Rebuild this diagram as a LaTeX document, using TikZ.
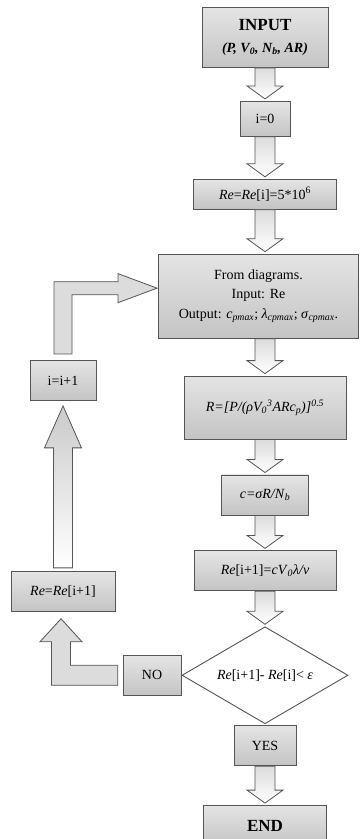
\documentclass[tikz,border=0pt]{standalone}
\usepackage{fontspec}
\setmainfont{Liberation Serif}
\usetikzlibrary{positioning,calc,shapes.geometric}
\definecolor{edgec}{HTML}{555555}
\definecolor{shadec}{HTML}{C4C4C4}
\definecolor{arrc}{HTML}{DCDCDC}
\newcommand{\fs}[1]{\fontsize{#1}{#1}\selectfont}
\tikzset{
  blk/.style  ={draw=edgec,line width=.9pt,top color=shadec!45,middle color=white,
                bottom color=shadec,inner sep=2pt,align=center,
                font=\fontsize{14}{19.5}\selectfont},
  dec/.style  ={blk,shape=diamond,top color=white,bottom color=white,middle color=white,
                inner sep=0pt,aspect=1.7},
  barw/.style ={draw=edgec,line width=.8pt,line join=miter,top color=arrc,bottom color=white},
  barwU/.style={barw,top color=shadec!90,bottom color=white},
  barwL/.style={barw,fill=arrc,top color=arrc,bottom color=arrc},
}
% hollow down arrow on the main column
\newcommand{\dnarr}[2]{%
  \draw[barw] let \p1=(#1.south -| inp.south), \p2=($(#2.north -| inp.south)+(0,2pt)$) in
    (\x1-10pt,\y1) -- (\x1+10pt,\y1) -- (\x1+10pt,\y2+13pt) -- (\x1+18pt,\y2+13pt)
    -- (\x1,\y2) -- (\x1-18pt,\y2+13pt) -- (\x1-10pt,\y2+13pt) -- cycle;}

\begin{document}
\begin{tikzpicture}
\useasboundingbox (0,0) rectangle (360pt,-839pt);

% ---------- main column ----------
\node[blk,minimum width=126pt,minimum height=60pt,anchor=north] (inp) at (265pt,-7pt)
  {{\fs{17}\bfseries INPUT}\\[2pt]
   {\fs{14}\bfseries\itshape (P, V\textsubscript{0}, N\textsubscript{b}, AR)}};
\node[blk,minimum width=50pt,minimum height=35pt,below=33pt of inp] (i0) {i=0};
\node[blk,minimum width=143pt,minimum height=30pt,below=42pt of i0] (re0)
  {\textit{Re}=\textit{Re}[i]=5*10\textsuperscript{6}};
\node[blk,minimum width=200pt,minimum height=84pt,below=44pt of re0,xshift=-6.5pt] (diag)
  {From diagrams.\\Input: Re\\
   Output: \textit{c}\textsubscript{\textit{pmax}}; \textit{λ}\textsubscript{\textit{cpmax}};
   \textit{σ}\textsubscript{\textit{cpmax}}.};
\node[blk,minimum width=162pt,minimum height=63pt,below=37pt of diag,xshift=6.5pt] (rr)
  {\textit{R=[P/(ρV\textsubscript{0}\textsuperscript{3}ARc\textsubscript{p})]\textsuperscript{0.5}}};
\node[blk,minimum width=87pt,minimum height=40pt,below=35pt of rr] (cc)
  {\textit{c=σR/N}\textsubscript{\textit{b}}};
\node[blk,minimum width=142pt,minimum height=40pt,below=35pt of cc] (rei1)
  {\textit{Re}[i+1]=\textit{cV}\textsubscript{\textit{0}}\textit{λ/ν}};
\node[dec,minimum width=166pt,minimum height=97pt,below=35pt of rei1] (test)
  {\textit{Re}[i+1]- \textit{Re}[i]< \textit{ε}};
\node[blk,minimum width=62pt,minimum height=40pt,below=1pt of test] (yes) {YES};
\node[blk,minimum width=123pt,minimum height=40pt,below=39pt of yes] (fin)
  {\fs{17}\bfseries END};

\dnarr{inp}{i0}
\dnarr{i0}{re0}
\dnarr{re0}{diag}
\dnarr{diag}{rr}
\dnarr{rr}{cc}
\dnarr{cc}{rei1}
\dnarr{rei1}{test}
\dnarr{yes}{fin}

% ---------- loop back ----------
\coordinate (lc) at (63pt,0);
\node[blk,minimum width=58pt,minimum height=40pt,left=0pt of test] (no) {NO};
\node[blk,minimum width=104pt,minimum height=40pt] (reup) at (lc |- rei1.south)
  {\textit{Re}=\textit{Re}[i+1]};
\node[blk,minimum width=66pt,minimum height=40pt,above=170pt of reup] (inc) {i=i+1};

\draw[barwL] let \p1=(no.west), \p2=(reup.south), \p3=($(reup.south)+(-2pt,0)$) in
  (\x1-5pt,\y1+10pt) -- (\x3+9.5pt,\y1+10pt) -- (\x3+9.5pt,\y2-30pt) -- (\x3+21pt,\y2-30pt)
  -- (\x3,\y2-7pt) -- (\x3-21pt,\y2-30pt) -- (\x3-9.5pt,\y2-30pt) -- (\x3-9.5pt,\y1-10pt)
  -- (\x1-5pt,\y1-10pt) -- cycle;
\draw[barwU] let \p1=(reup.north), \p2=(inc.south) in
  (\x1-9.5pt,\y1+3pt) -- (\x1-9.5pt,\y2-47pt) -- (\x1-18.5pt,\y2-47pt) -- (\x1,\y2-5pt)
  -- (\x1+18.5pt,\y2-47pt) -- (\x1+9.5pt,\y2-47pt) -- (\x1+9.5pt,\y1+3pt) -- cycle;
\draw[barwL] let \p1=(inc.north), \p2=(diag.west) in
  (\x1-9pt,\y1+6pt) -- (\x1-9pt,\y2+14.5pt) -- (\x2-40pt,\y2+14.5pt) -- (\x2-40pt,\y2+22.5pt)
  -- (\x2-1pt,\y2+8pt) -- (\x2-40pt,\y2-6.5pt) -- (\x2-40pt,\y2+1.5pt) -- (\x1+9pt,\y2+1.5pt)
  -- (\x1+9pt,\y1+6pt) -- cycle;
\end{tikzpicture}
\end{document}
